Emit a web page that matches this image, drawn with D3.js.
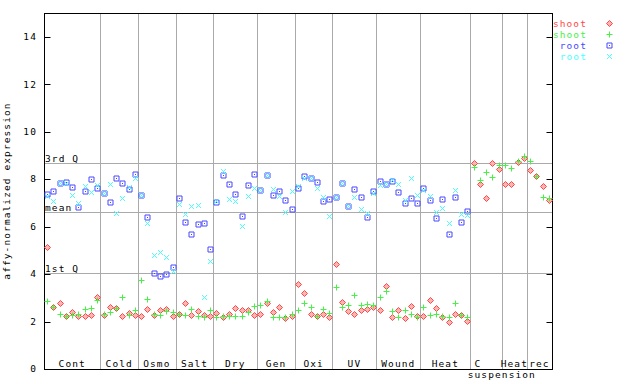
<!DOCTYPE html>
<html>
<head>
<meta charset="utf-8">
<script src="https://cdn.jsdelivr.net/npm/d3@7"></script>
<style>
  body { margin: 0; background: #fff; }
  text { font-family: "DejaVu Sans Mono", monospace; font-size: 9.5px; letter-spacing: 1.1px; }
</style>
</head>
<body>
<script>
// treatment groups along the x axis and how many samples each has
var groupNames = ["Cont", "Cold", "Osmo", "Salt", "Dry", "Gen", "Oxi", "UV", "Wound", "Heat", "C", "Heat", "rec"];
var groupSizes = [9, 6, 6, 6, 7, 6, 6, 7, 7, 8, 5, 4, 4];

// expression values, one per sample (root has no values for the last groups)
var shoot1 = [5.16, 2.60, 2.77, 2.22, 2.39, 2.22, 2.22, 2.26, 3.02,
  2.26, 2.60, 2.56, 2.22, 2.35, 2.26,
  2.22, 2.52, 2.26, 2.48, 2.52, 2.22,
  2.31, 2.77, 2.26, 2.43, 2.26, 2.22,
  2.35, 2.18, 2.31, 2.56, 2.48, 2.48, 2.26,
  2.31, 2.77, 2.39, 2.60, 2.14, 2.22,
  3.57, 3.19, 2.31, 2.22, 2.31, 2.18,
  4.42, 2.81, 2.43, 2.31, 2.48, 2.52, 2.60,
  2.48, 3.49, 2.18, 2.48, 2.14, 2.64, 2.22,
  2.22, 2.90, 2.56, 2.18, 1.97, 2.31, 2.26, 2.01,
  8.68, 7.79, 7.20, 8.68, 8.42,
  7.79, 7.79, 8.72, 8.89,
  8.38, 8.13, 7.71, 7.11];

var shoot2 = [2.87, 2.60, 2.31, 2.22, 2.26, 2.31, 2.52, 2.56, 2.90,
  2.31, 2.39, 2.56, 3.02, 2.26, 2.48,
  3.74, 2.94, 2.31, 2.26, 2.43, 2.39,
  2.31, 2.26, 2.52, 2.22, 2.18, 2.48,
  2.18, 2.22, 2.22, 2.22, 2.22, 2.39, 2.64,
  2.69, 2.86, 2.18, 2.18, 2.18, 2.31,
  2.48, 2.77, 2.60, 2.22, 2.52, 2.35,
  3.45, 2.60, 2.69, 3.11, 2.69, 2.73, 2.69,
  3.02, 3.28, 2.43, 2.18, 2.48, 2.31, 2.18,
  2.60, 2.26, 2.31, 2.22, 2.18, 2.77, 2.26, 2.18,
  8.50, 7.96, 8.30, 8.09, 8.59,
  8.59, 8.46, 8.76, 8.97,
  8.76, 8.13, 7.24, 7.20];

var root1 = [7.37, 7.49, 7.83, 7.87, 7.66, 6.82, 7.49, 8.00, 7.62,
  7.41, 7.03, 8.04, 7.83, 7.58, 8.21,
  7.33, 6.40, 4.04, 3.91, 3.99, 4.29,
  7.20, 6.19, 5.68, 6.10, 6.14, 5.05,
  7.04, 8.17, 7.79, 7.37, 6.44, 7.75, 8.21,
  7.54, 8.17, 7.33, 7.49, 7.11, 6.74,
  7.62, 8.13, 8.04, 7.87, 7.07, 7.16,
  7.24, 7.83, 6.86, 7.58, 7.24, 6.40, 7.49,
  7.92, 7.79, 7.92, 7.45, 6.99, 7.20, 6.99,
  7.62, 7.11, 6.36, 7.16, 5.68, 7.24, 6.19, 6.65,
  null, null, null, null, null,
  null, null, null, null,
  null, null, null, null];

var root2 = [7.30, 7.06, 7.83, 7.83, 7.34, 6.99, 7.69, 7.45, 7.76,
  7.41, 7.79, 6.59, 7.20, 7.66, 8.04,
  7.33, 6.14, 4.80, 4.92, 4.71, 4.13,
  6.95, 6.52, 6.86, 6.90, 3.02, 4.54,
  7.07, 8.34, 7.16, 7.07, 6.02, 7.28, 7.62,
  7.54, 8.17, 7.58, 7.28, 6.61, 7.49,
  7.71, 8.04, 8.04, 7.62, 7.24, 6.44,
  7.24, 7.83, 6.86, 7.24, 6.74, 6.57, 7.41,
  7.75, 7.79, 7.96, 7.79, 7.11, 8.04, 7.33,
  7.54, 7.28, 6.61, 6.78, 6.14, 7.54, 6.52, 6.48,
  null, null, null, null, null,
  null, null, null, null,
  null, null, null, null];

// quartile / mean reference lines
var refLabels = ["3rd Q", "mean", "1st Q"];
var refValues = [8.69, 6.62, 4.05];

var yTicks = [0, 2, 4, 6, 8, 10, 12, 14];

var seriesNames = ["shoot", "shoot", "root", "root"];
var seriesData = [shoot1, shoot2, root1, root2];
var seriesColors = ["#ff4848", "#48f048", "#4848ff", "#48ffff"];
var seriesFills = ["#ffb4b4", "none", "none", "none"];
var seriesShapes = ["diamond", "plus", "square", "cross"];

var fullwidth = 640, fullheight = 384;
var margin = {top: 13, right: 88, bottom: 15, left: 44};

var nSamples = d3.sum(groupSizes);

var svg = d3.select("body")
  .append("svg")
  .attr("width", fullwidth)
  .attr("height", fullheight);

svg.append("rect")
  .attr("width", fullwidth)
  .attr("height", fullheight)
  .attr("fill", "#fff");

var xscale = d3.scaleLinear()
  .domain([0, nSamples])
  .range([margin.left, fullwidth - margin.right]);

var yscale = d3.scaleLinear()
  .domain([0, 15])
  .range([fullheight - margin.bottom, margin.top]);

var x0 = xscale.range()[0], x1 = xscale.range()[1];
var y0 = yscale.range()[0], y1 = yscale.range()[1];

// group boundaries
var bounds = [];
var acc = 0;
groupSizes.forEach(function(n) { bounds.push([acc, acc + n]); acc += n; });

svg.append("g").selectAll("line")
  .data(bounds.slice(0, -1))
  .enter().append("line")
  .attr("x1", function(d) { return Math.round(xscale(d[1])) + 0.5; })
  .attr("x2", function(d) { return Math.round(xscale(d[1])) + 0.5; })
  .attr("y1", y1)
  .attr("y2", y0)
  .attr("stroke", "#aaa");

// reference lines
svg.append("g").selectAll("line")
  .data(refValues)
  .enter().append("line")
  .attr("x1", x0)
  .attr("x2", x1)
  .attr("y1", function(d) { return Math.round(yscale(d)) + 0.5; })
  .attr("y2", function(d) { return Math.round(yscale(d)) + 0.5; })
  .attr("stroke", "#aaa");

svg.append("g").selectAll("text")
  .data(refLabels)
  .enter().append("text")
  .attr("x", x0 + 1)
  .attr("y", function(d, i) { return Math.round(yscale(refValues[i])) - 1; })
  .attr("fill", "#000")
  .text(function(d) { return d; });

// frame
svg.append("rect")
  .attr("x", x0 + 0.5)
  .attr("y", y1 + 0.5)
  .attr("width", x1 - x0)
  .attr("height", y0 - y1)
  .attr("fill", "none")
  .attr("stroke", "#000");

// left axis, ticks pointing inward
var leftAxis = svg.append("g")
  .attr("transform", "translate(" + (x0 + 0.5) + ",0)")
  .call(d3.axisRight(yscale).tickValues(yTicks).tickSize(6).tickFormat(""));
leftAxis.select(".domain").remove();

svg.append("g").selectAll("text")
  .data(yTicks)
  .enter().append("text")
  .attr("x", x0 - 7)
  .attr("y", function(d) { return yscale(d); })
  .attr("dy", "0.35em")
  .style("text-anchor", "end")
  .text(function(d) { return d; });

// right axis, ticks pointing inward, no labels
var rightAxis = svg.append("g")
  .attr("transform", "translate(" + (x1 + 0.5) + ",0)")
  .call(d3.axisLeft(yscale).tickValues(yTicks).tickSize(6).tickFormat(""));
rightAxis.select(".domain").remove();

svg.selectAll(".tick line").attr("stroke", "#000");
svg.selectAll(".tick").attr("transform", function(d) {
  return "translate(0," + (Math.round(yscale(d)) + 0.5) + ")";
});

// y axis title
svg.append("text")
  .attr("transform", "translate(10," + ((y0 + y1) / 2) + ") rotate(-90)")
  .style("text-anchor", "middle")
  .text("affy-normalized expression");

// group labels inside the bottom of the plot
svg.append("g").selectAll("text")
  .data(groupNames)
  .enter().append("text")
  .attr("x", function(d, i) {
    if (d == "C") return xscale(bounds[i][0]) + 4;
    return xscale((bounds[i][0] + bounds[i][1]) / 2);
  })
  .attr("y", y0 - 2)
  .style("text-anchor", function(d) { return d == "C" ? "start" : "middle"; })
  .text(function(d) { return d; });

svg.append("text")
  .attr("x", xscale(bounds[10][1]))
  .attr("y", y0 + 9)
  .style("text-anchor", "middle")
  .text("suspension");

// marker shapes
function markerPath(shape, cx, cy) {
  cx = Math.round(cx) + 0.5;
  cy = Math.round(cy) + 0.5;
  if (shape == "diamond")
    return "M" + cx + "," + (cy - 3) + "L" + (cx + 3) + "," + cy + "L" + cx + "," + (cy + 3) + "L" + (cx - 3) + "," + cy + "Z";
  if (shape == "plus")
    return "M" + (cx - 3) + "," + cy + "H" + (cx + 3) + "M" + cx + "," + (cy - 3) + "V" + (cy + 3);
  if (shape == "square")
    return "M" + (cx - 2.5) + "," + (cy - 2.5) + "h5v5h-5Z";
  return "M" + (cx - 2.5) + "," + (cy - 2.5) + "L" + (cx + 2.5) + "," + (cy + 2.5) +
    "M" + (cx + 2.5) + "," + (cy - 2.5) + "L" + (cx - 2.5) + "," + (cy + 2.5);
}

seriesData.forEach(function(values, s) {
  var pts = values.map(function(v, i) { return {i: i, v: v}; })
    .filter(function(d) { return d.v != null; });

  var g = svg.append("g");

  g.selectAll("path")
    .data(pts)
    .enter().append("path")
    .attr("d", function(d) { return markerPath(seriesShapes[s], xscale(d.i + 0.5), yscale(d.v)); })
    .attr("fill", seriesFills[s])
    .attr("stroke", seriesColors[s])
    .attr("stroke-width", 1);

  if (seriesShapes[s] == "square") {
    g.selectAll("rect")
      .data(pts)
      .enter().append("rect")
      .attr("x", function(d) { return Math.round(xscale(d.i + 0.5)); })
      .attr("y", function(d) { return Math.round(yscale(d.v)); })
      .attr("width", 1)
      .attr("height", 1)
      .attr("fill", seriesColors[s]);
  }
});

// legend
var legend = svg.selectAll(".legend")
  .data(seriesNames)
  .enter().append("g")
  .attr("class", "legend");

legend.append("text")
  .attr("x", 587)
  .attr("y", function(d, i) { return 23.5 + i * 10.9; })
  .attr("dy", "0.35em")
  .style("text-anchor", "end")
  .attr("fill", function(d, i) { return seriesColors[i]; })
  .text(function(d) { return d; });

legend.append("path")
  .attr("d", function(d, i) { return markerPath(seriesShapes[i], 609, 23 + i * 10.9); })
  .attr("fill", function(d, i) { return seriesFills[i]; })
  .attr("stroke", function(d, i) { return seriesColors[i]; });

legend.filter(function(d, i) { return seriesShapes[i] == "square"; })
  .append("rect")
  .attr("x", 609)
  .attr("y", function(d, i) { return Math.round(23 + 2 * 10.9); })
  .attr("width", 1)
  .attr("height", 1)
  .attr("fill", seriesColors[2]);
</script>
</body>
</html>
